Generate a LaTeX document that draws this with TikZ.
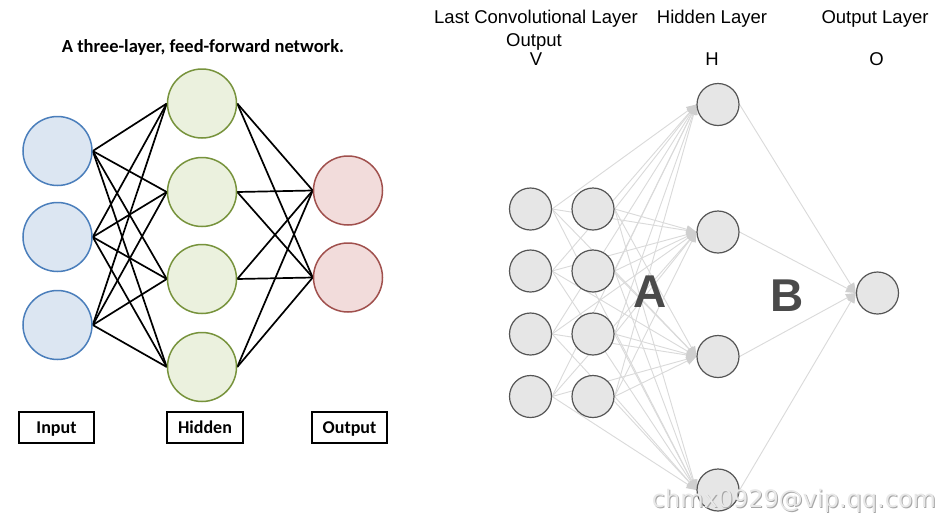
\documentclass[tikz,border=0pt]{standalone}
\usepackage{fontspec}
\setmainfont{Liberation Sans}
\newfontfamily\calfont{Carlito}
\newfontfamily\wmfont{DejaVu Sans}
\usetikzlibrary{arrows.meta,backgrounds}
\definecolor{inFill}{HTML}{DCE6F2}
\definecolor{inDraw}{HTML}{4A7EBB}
\definecolor{hidFill}{HTML}{EBF1DE}
\definecolor{hidDraw}{HTML}{77933C}
\definecolor{outFill}{HTML}{F2DCDB}
\definecolor{outDraw}{HTML}{A0504D}
\definecolor{nodeFill}{HTML}{E6E6E6}
\definecolor{nodeDraw}{HTML}{555555}
\definecolor{edgeGray}{HTML}{DADADA}
\definecolor{tipGray}{HTML}{CFCFCF}
\definecolor{letterGray}{HTML}{4A4A4A}
\tikzset{
  bigneuron/.style={circle,minimum size=69pt,inner sep=0pt,line width=1.5pt},
  inneuron/.style={bigneuron,fill=inFill,draw=inDraw},
  hidneuron/.style={bigneuron,fill=hidFill,draw=hidDraw},
  outneuron/.style={bigneuron,fill=outFill,draw=outDraw},
  nnedge/.style={line width=1.7pt,black},
  labelbox/.style={draw=black,line width=1.5pt,minimum width=75pt,minimum height=31pt,inner sep=0pt,
    text height=12pt,text depth=1pt,font=\calfont\bfseries\fontsize{18}{20}\selectfont},
  smallneuron/.style={circle,minimum size=42pt,inner sep=0pt,line width=1.2pt,fill=nodeFill,draw=nodeDraw},
  vedge/.style={line width=0.9pt,draw=edgeGray,-{Triangle[length=10pt,width=8pt,fill=tipGray,color=tipGray]}},
  headtext/.style={font=\fontsize{18.5}{21}\selectfont,anchor=base,inner sep=0pt},
  bigletter/.style={font=\bfseries\fontsize{46}{50}\selectfont,text=letterGray,anchor=base,inner sep=0pt}
}
\begin{document}
\begin{tikzpicture}[x=1pt,y=-1pt]
\useasboundingbox (0,0) rectangle (946,523);
% ---------- left network ----------
\node[anchor=base,inner sep=0pt,font=\calfont\bfseries\fontsize{18.5}{21}\selectfont] (title) at (203,52.7) {A three-layer, feed-forward network.};
\node[inneuron] (in1) at (57.5,151) {};
\node[inneuron] (in2) at (57.5,237) {};
\node[inneuron] (in3) at (57.5,325) {};
\node[hidneuron] (hid1) at (202,103.5) {};
\node[hidneuron] (hid2) at (202,192) {};
\node[hidneuron] (hid3) at (202,279) {};
\node[hidneuron] (hid4) at (202,367) {};
\node[outneuron] (out1) at (348,190.5) {};
\node[outneuron] (out2) at (348,277.5) {};
\node[labelbox] (binput) at (56.5,427.5) {Input};
\node[labelbox,minimum width=76pt] (bhidden) at (205,427.5) {Hidden};
\node[labelbox] (boutput) at (349.5,427.5) {Output};
% ---------- right network ----------
\node[headtext] (t1) at (536,23) {Last Convolutional Layer};
\node[headtext] (t2) at (534,46) {Output};
\node[headtext] (t3) at (536,65) {V};
\node[headtext] (t4) at (712,23) {Hidden Layer};
\node[headtext] (t5) at (712,65) {H};
\node[headtext] (t6) at (875,23) {Output Layer};
\node[headtext] (t7) at (876.5,65) {O};
\foreach \i/\y in {1/209,2/271,3/334,4/396.5}{
  \node[smallneuron] (va\i) at (530.5,\y) {};
  \node[smallneuron] (vb\i) at (593,\y) {};
}
\foreach \i/\y in {1/104.5,2/232,3/356.5,4/490}{
  \node[smallneuron] (h\i) at (718,\y) {};
}
\node[smallneuron] (o1) at (877.5,293) {};
\node[bigletter] (lA) at (650,307) {A};
\node[bigletter] (lB) at (787,311) {B};
\node[font=\wmfont\fontsize{24}{26}\selectfont,text=gray!70,anchor=base,inner sep=0pt] (wmshadow) at (795,508) {chmx0929@vip.qq.com};
\node[font=\wmfont\fontsize{24}{26}\selectfont,text=gray!18,anchor=base,inner sep=0pt] (wm) at (794,507) {chmx0929@vip.qq.com};
% ---------- edges (behind) ----------
\begin{scope}[on background layer]
\fill[white] (0,0) rectangle (946,523);
\foreach \i in {1,2,3}{\foreach \j in {1,2,3,4}{\draw[nnedge] (in\i.east) -- (hid\j.west);}}
\foreach \i in {1,2,3,4}{\foreach \j in {1,2}{\draw[nnedge] (hid\i.east) -- (out\j.west);}}
\foreach \c in {a,b}{\foreach \i in {1,2,3,4}{\foreach \j in {1,2,3,4}{\draw[vedge] (v\c\i.east) -- (h\j.west);}}}
\foreach \j in {1,2,3,4}{\draw[vedge] (h\j.east) -- (o1.west);}
\end{scope}
\end{tikzpicture}
\end{document}
